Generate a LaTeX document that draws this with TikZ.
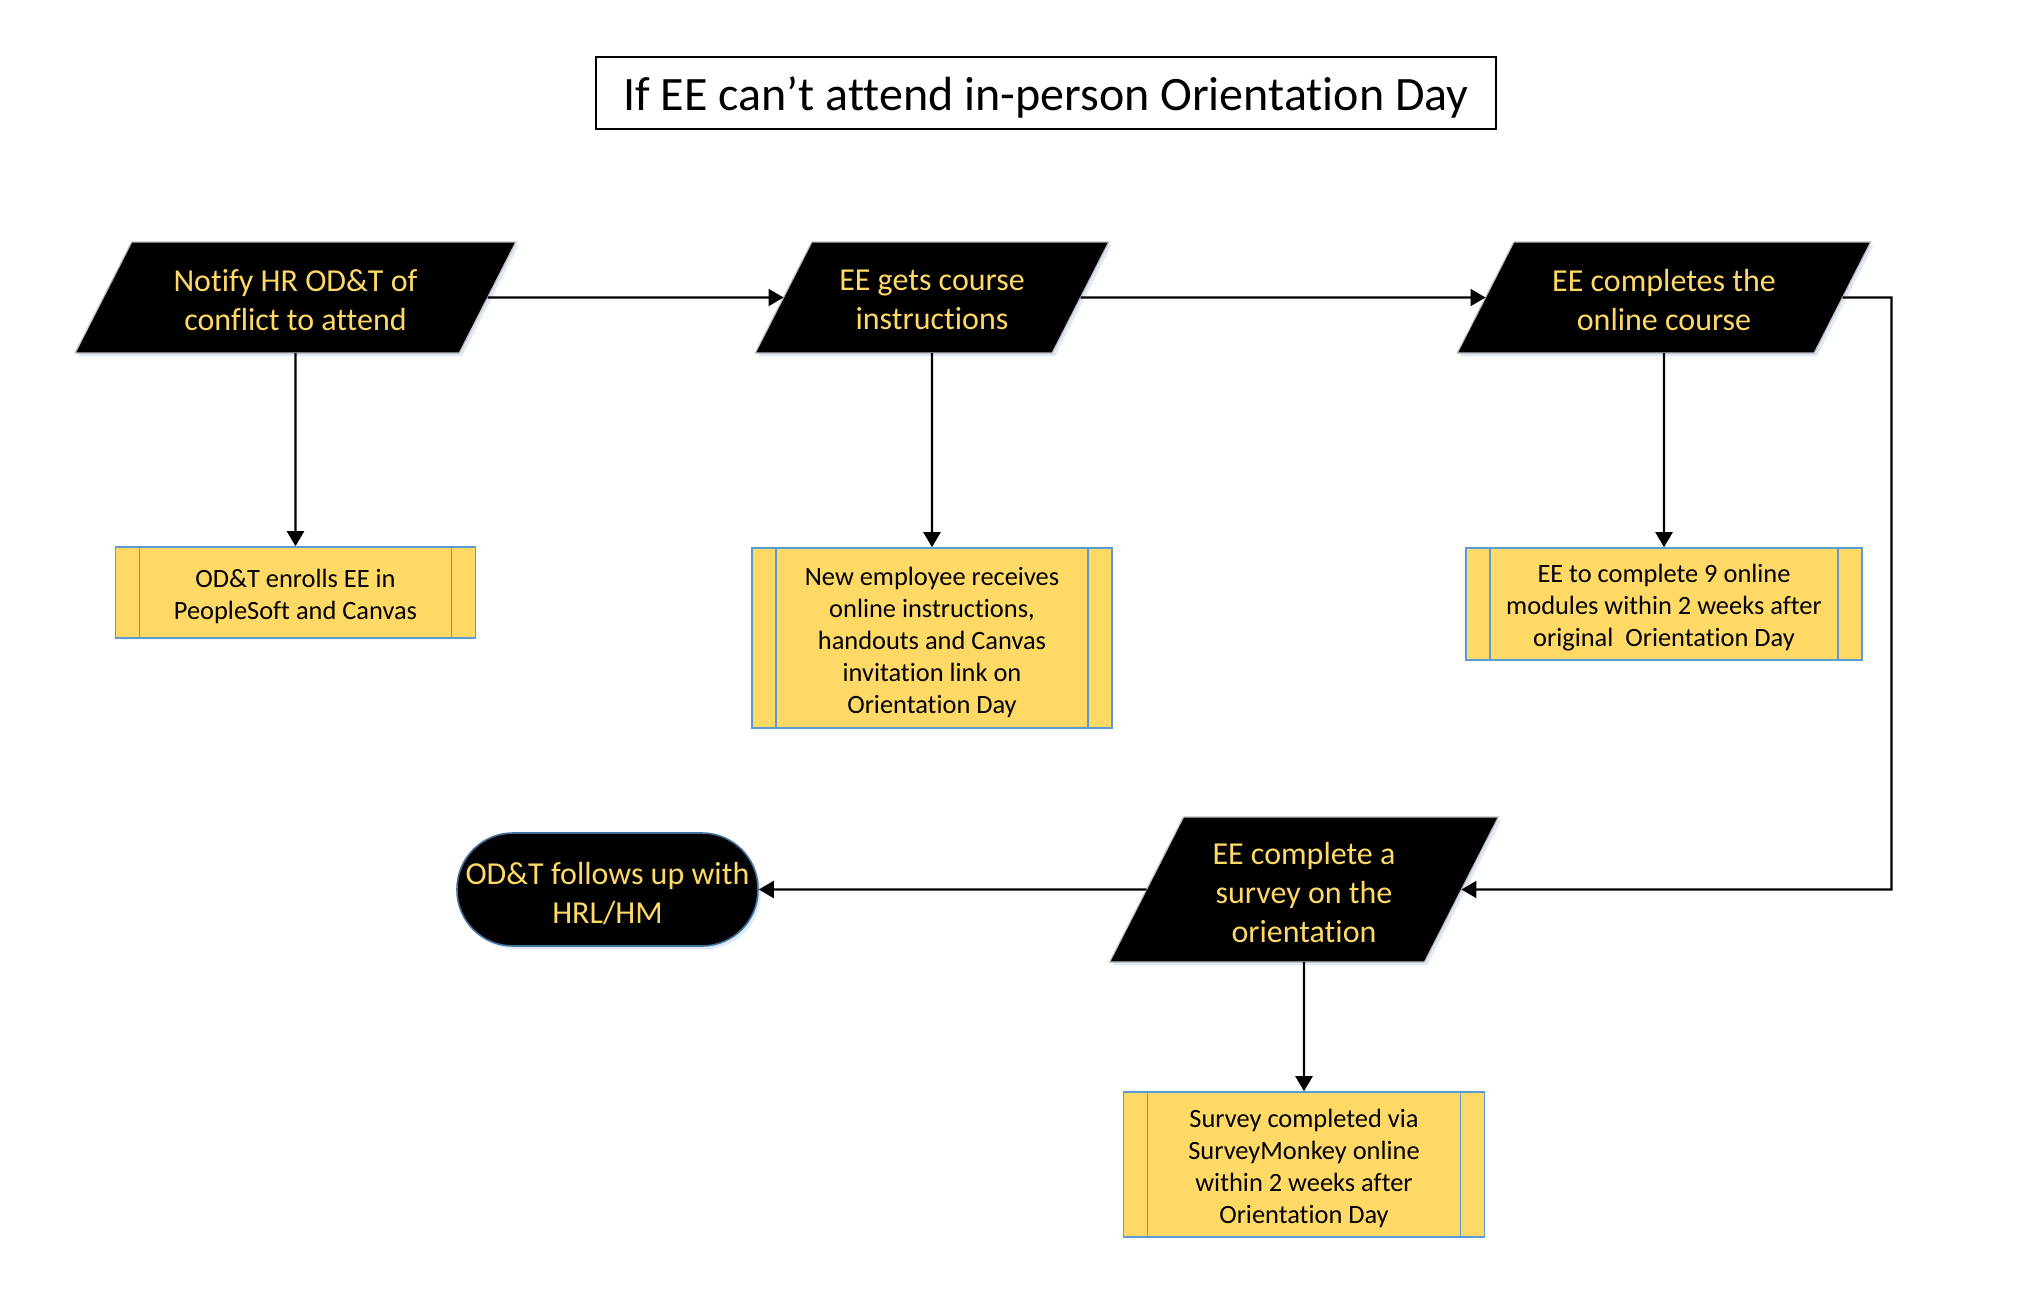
\documentclass[tikz,border=0pt]{standalone}
\usepackage{fontspec}
\setmainfont{Carlito}[Ligatures={NoCommon,NoContextual,NoRare}]
\usetikzlibrary{shapes.geometric, arrows.meta, shadows}

\definecolor{gold}{HTML}{FFD966}
\definecolor{edgeblue}{HTML}{5B9BD5}
\definecolor{darkedge}{HTML}{41719C}

% fixed-size text block: height, width, top offset, text
\newcommand\blk[4]{\parbox[c][#1][c]{#2}{\centering\vspace*{#3}#4}}

\begin{document}
\begin{tikzpicture}[x=0.5pt, y=-0.5pt,
  titlebox/.style={draw, line width=1pt, inner sep=0pt,
    font=\fontsize{24}{29}\selectfont},
  softshadow/.style={drop shadow={shadow xshift=1.4pt, shadow yshift=-1.6pt,
    fill=edgeblue!45, opacity=0.45}},
  io/.style={trapezium, trapezium left angle=63, trapezium right angle=117,
    fill=black, draw=black!25, line width=0.6pt,
    text=gold, inner sep=0pt, outer sep=0pt, softshadow,
    font=\fontsize{16}{19.5}\selectfont},
  proc/.style={rectangle, fill=gold, draw=edgeblue, line width=0.8pt,
    inner sep=0pt, font=\fontsize{13.2}{16}\selectfont,
    path picture={\draw[edgeblue, line width=0.8pt]
      ([xshift=12pt]path picture bounding box.north west) --
      ([xshift=12pt]path picture bounding box.south west)
      ([xshift=-12pt]path picture bounding box.north east) --
      ([xshift=-12pt]path picture bounding box.south east);}},
  term/.style={rectangle, rounded corners=28pt, fill=black, draw=darkedge,
    line width=0.8pt, text=gold, inner sep=0pt, softshadow,
    font=\fontsize{16}{19.5}\selectfont},
  conn/.style={line width=1.1pt, -{Triangle[length=7.5pt, width=8.5pt]}}
]
\fill[white] (0,0) rectangle (2030,1302);
\useasboundingbox (0,0) rectangle (2030,1302);

% heading
\node[titlebox] (ttl) at (1046,93)
  {\blk{36pt}{450pt}{4pt}{If EE can’t attend in-person Orientation Day}};

% input/output steps
\node[io] (notify) at (295.5,297.5)
  {\blk{55.5pt}{163.8pt}{2.6pt}{Notify HR OD\&T of\\conflict to attend}};
\node[io] (gets) at (932,297.5)
  {\blk{55.5pt}{120.2pt}{2.6pt}{EE gets course\\instructions}};
\node[io] (completes) at (1664,297.5)
  {\blk{55.5pt}{150.2pt}{2.6pt}{EE completes the\\online course}};
\node[io] (survey) at (1304,889.5)
  {\blk{72.5pt}{120.5pt}{2.6pt}{EE complete a\\survey on the\\orientation}};

% predefined processes
\node[proc] (enroll) at (295.5,592.5)
  {\blk{45.5pt}{180pt}{4pt}{OD\&T enrolls EE in\\PeopleSoft and Canvas}};
\node[proc] (receives) at (932,638)
  {\blk{90pt}{180pt}{4pt}{New employee receives\\online instructions,\\handouts and Canvas\\invitation link on\\Orientation Day}};
\node[proc] (modules) at (1664,604)
  {\blk{56pt}{198pt}{4pt}{EE to complete 9 online\\modules within 2 weeks after\\original\ \ Orientation Day}};
\node[proc] (monkey) at (1304,1164.5)
  {\blk{72.5pt}{180.5pt}{4pt}{Survey completed via\\SurveyMonkey online\\within 2 weeks after\\Orientation Day}};

% terminator
\node[term] (followup) at (607.5,889.5)
  {\blk{56.5pt}{150.5pt}{4pt}{OD\&T follows up with\\HRL/HM}};

\coordinate (turn) at (1891.5,297.5);

% connectors
\draw[conn] (notify) -- (gets);
\draw[conn] (gets) -- (completes);
\draw[conn] (notify) -- (enroll);
\draw[conn] (gets) -- (receives);
\draw[conn] (completes) -- (modules);
\draw[conn] (completes) -- (turn) |- (survey);
\draw[conn] (survey) -- (followup);
\draw[conn] (survey) -- (monkey);
\end{tikzpicture}
\end{document}
